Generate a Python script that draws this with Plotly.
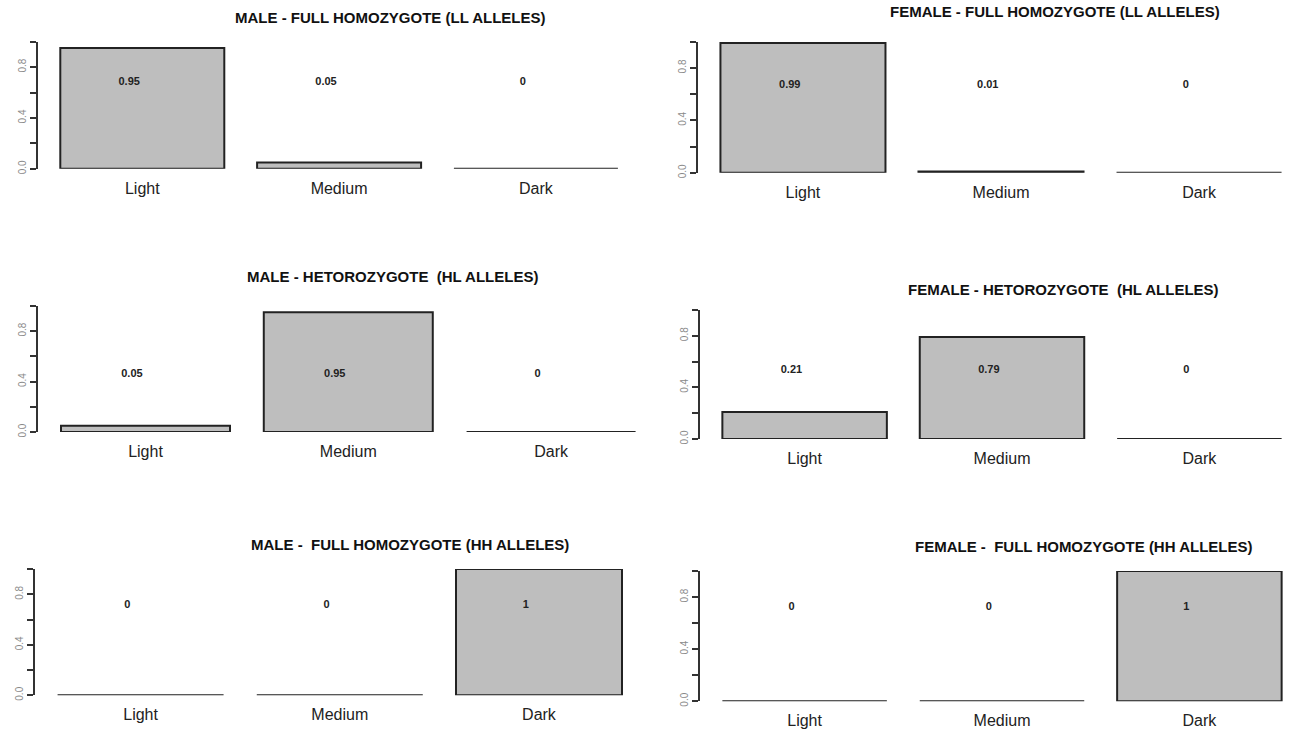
import plotly.graph_objects as go

# Phenotype frequency by genotype and sex
categories = ["Light", "Medium", "Dark"]

male_ll = [0.95, 0.05, 0]
female_ll = [0.99, 0.01, 0]
male_hl = [0.05, 0.95, 0]
female_hl = [0.21, 0.79, 0]
male_hh = [0, 0, 1]
female_hh = [0, 0, 1]

titles = [
    "MALE - FULL HOMOZYGOTE (LL ALLELES)",
    "FEMALE - FULL HOMOZYGOTE (LL ALLELES)",
    "MALE - HETOROZYGOTE  (HL ALLELES)",
    "FEMALE - HETOROZYGOTE  (HL ALLELES)",
    "MALE -  FULL HOMOZYGOTE (HH ALLELES)",
    "FEMALE -  FULL HOMOZYGOTE (HH ALLELES)",
]

y_ticks = [0, 0.2, 0.4, 0.6, 0.8, 1.0]
y_tick_labels = ["0.0", "", "0.4", "", "0.8", ""]

W, H = 1304, 735

# panel layout: axis x (px), px per bar unit, y of 0 (px), y of 1 (px),
# title centre x, title y, label height
panels = [
    (male_ll, 38, 164, 170, 42, 390, 18, 0.68),
    (female_ll, 698, 166, 174, 42, 1055, 12, 0.67),
    (male_hl, 38, 169, 435, 308, 392, 278, 0.46),
    (female_hl, 700, 169, 442, 312, 1063, 291, 0.53),
    (male_hh, 35, 166, 700, 573, 410, 548, 0.71),
    (female_hh, 700, 169, 706, 575, 1083, 550, 0.72),
]

# R barplot geometry: width 1, space 0.2, 4% padding on x
centers = [0.2 + 1.2 * i + 0.5 for i in range(len(categories))]
x_lo, x_hi = 0.064, 3.736

FONT = "Liberation Sans, Arial, sans-serif"

fig = go.Figure()
layout = dict(
    width=W, height=H,
    margin=dict(l=0, r=0, t=0, b=0),
    paper_bgcolor="white", plot_bgcolor="white",
    showlegend=False,
    annotations=[],
)

for i, (vals, ax, unit, yz, yo, tcx, tcy, lab_y) in enumerate(panels, start=1):
    xa = "x" if i == 1 else f"x{i}"
    ya = "y" if i == 1 else f"y{i}"
    fig.add_trace(go.Bar(
        x=centers, y=vals, width=1,
        marker=dict(color="#BEBEBE", line=dict(color="#222222", width=2)),
        cliponaxis=False, hoverinfo="skip",
        xaxis=xa, yaxis=ya,
    ))
    fig.add_trace(go.Scatter(
        x=[c - 0.08 for c in centers], y=[lab_y] * len(vals),
        mode="text", text=[f"{v:g}" for v in vals],
        textfont=dict(family=FONT, size=11, color="#222222", weight="bold"),
        hoverinfo="skip", cliponaxis=False,
        xaxis=xa, yaxis=ya,
    ))
    x_dom = [ax / W, min(1.0, (ax + (x_hi - x_lo) * unit) / W)]
    y_dom = [1 - yz / H, 1 - yo / H]
    layout["xaxis" if i == 1 else f"xaxis{i}"] = dict(
        domain=x_dom, range=[x_lo, x_hi], anchor=ya,
        tickvals=centers, ticktext=categories,
        ticks="outside", ticklen=5, tickcolor="rgba(0,0,0,0)",
        tickfont=dict(family=FONT, size=16, color="#222222"),
        showline=False, showgrid=False, zeroline=False, fixedrange=True,
    )
    layout["yaxis" if i == 1 else f"yaxis{i}"] = dict(
        domain=y_dom, range=[0, 1], anchor=xa,
        tickvals=y_ticks, ticktext=y_tick_labels, tickangle=-90,
        ticks="outside", ticklen=6, tickcolor="#333333", tickwidth=1.5,
        tickfont=dict(family=FONT, size=10, color="#8a8a8a"),
        showline=True, linecolor="#333333", linewidth=1.5,
        showgrid=False, zeroline=False, fixedrange=True,
    )
    layout["annotations"].append(dict(
        text=titles[i - 1], x=tcx / W, y=1 - tcy / H,
        xref="paper", yref="paper", xanchor="center", yanchor="middle",
        showarrow=False,
        font=dict(family=FONT, size=15, color="#111111", weight="bold"),
    ))

fig.update_layout(**layout)
fig.write_html("out.html")
